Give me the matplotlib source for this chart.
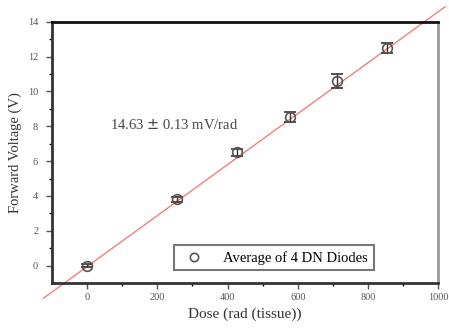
import numpy as np
import matplotlib.pyplot as plt
from matplotlib.lines import Line2D

# dose (rad tissue) vs forward voltage (V)
dose = [0, 255, 427, 577, 712, 853]
voltage = [0.0, 3.8, 6.5, 8.55, 10.6, 12.5]
err = [0.1, 0.15, 0.2, 0.3, 0.4, 0.3]
slope = 0.01463
intercept = -0.05

plt.rcParams['font.family'] = ['Liberation Serif', 'DejaVu Serif']

fig = plt.figure(figsize=(4.49, 3.31), dpi=100)
ax = fig.add_axes([0.116, 0.145, 0.86, 0.789])

fx = np.array([-125, 1020])
ax.plot(fx, slope * fx + intercept, color='#f08080', lw=1.0, clip_on=False, zorder=2)

ax.errorbar(dose, voltage, yerr=err, fmt='o', mfc='none', mec='#555555', ecolor='#333333',
            ms=7, mew=1.2, capsize=4, elinewidth=1.0, zorder=3)

ax.text(65, 8.07, '14.63 $\\pm$ 0.13 mV/rad', fontsize=10.5, color='#444444', va='center')

ax.set_xlim(-100, 1000)
ax.set_ylim(-1, 14)
ax.set_xticks([0, 200, 400, 600, 800, 1000])
ax.set_xticks([100, 300, 500, 700, 900], minor=True)
ax.set_yticks(range(0, 15, 2))
ax.set_yticks(range(1, 14, 2), minor=True)
ax.tick_params(labelsize=7.5, colors='#555555', length=4, width=1)
ax.tick_params(which='minor', length=2, width=1)
ax.tick_params(axis='y', pad=6)

for s in ['left', 'bottom']:
    ax.spines[s].set_linewidth(2)
    ax.spines[s].set_color('#333333')
ax.spines['top'].set_linewidth(2)
ax.spines['top'].set_color('#111111')
ax.spines['right'].set_linewidth(2)
ax.spines['right'].set_color('#999999')

ax.set_xlabel('Dose (rad (tissue))', fontsize=11, color='#333333')
ax.set_ylabel('Forward Voltage (V)', fontsize=10.5, color='#333333')

handle = Line2D([], [], marker='o', ls='none', mfc='none', mec='#555555', ms=6, mew=1.2)
leg = ax.legend([handle], ['Average of 4 DN Diodes'], loc='lower right',
                bbox_to_anchor=(0.852, 0.02), fontsize=10.5, frameon=True,
                fancybox=False, edgecolor='#555555', handletextpad=1.0, borderpad=0.4)
leg.get_frame().set_linewidth(1.5)

fig.savefig('out.png', dpi=100)
